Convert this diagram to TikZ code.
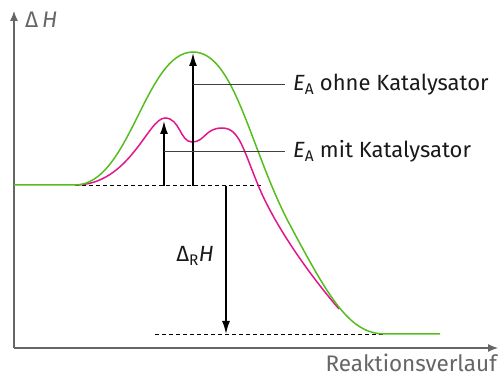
\documentclass[tikz,border=0pt]{standalone}
\usepackage{fontspec}
\setmainfont{Fira Sans}
\usetikzlibrary{arrows.meta,positioning}

\definecolor{axisgray}{HTML}{666666}
\definecolor{curvegreen}{HTML}{55BE1E}
\definecolor{curvepink}{HTML}{E2168C}

\begin{document}
\begin{tikzpicture}[x=1pt, y=-1pt,
  axis/.style={draw=axisgray, line width=1.3pt, -{Latex[length=10pt,width=8pt]}},
  ea/.style={draw=black, line width=1.6pt, -{Latex[length=13pt,width=8pt]}},
  guide/.style={draw=black!75, line width=0.8pt},
  level/.style={draw=black, dashed, line width=0.8pt, dash pattern=on 4pt off 3pt},
  lbl/.style={inner sep=0pt, font=\fontsize{22}{24}\selectfont, text=black!90},
  axlbl/.style={inner sep=0pt, font=\fontsize{22.5}{24}\selectfont, text=axisgray}]
  \useasboundingbox (0,0) rectangle (501,379);

  % axes
  \coordinate (o) at (14,348);
  \coordinate (ytop) at (14,11);
  \coordinate (xend) at (498,348);
  \draw[axis] (o) -- (ytop);
  \draw[axis] (o) -- (xend);
  \node[axlbl, anchor=base west] (ylab) at (25,28) {Δ\,\textit{H}};
  \node[axlbl, anchor=base east] (xlab) at (497,372) {Reaktionsverlauf};

  % levels
  \coordinate (start) at (75,185);
  \coordinate (startend) at (262,185);
  \coordinate (prod) at (155,334);
  \coordinate (prodend) at (385,334);
  \draw[level] (start) -- (startend);
  \draw[level] (prod) -- (prodend);

  % curves
  \draw[curvepink, line width=1.5pt] (start)
    .. controls (130,185) and (148,118) .. (165,118)
    .. controls (180,118) and (180,142) .. (192,142)
    .. controls (205,142) and (205,128) .. (222,128)
    .. controls (240,128) and (243,150) .. (261,192)
    .. controls (281,236) and (315,281) .. (339,309);
  \draw[curvegreen, line width=1.5pt] (14,185) -- (start)
    .. controls (130,185) and (145,52) .. (193,52)
    .. controls (235,52) and (250,150) .. (290,225)
    .. controls (330,300) and (350,334) .. (prodend) -- (440,334);

  % activation energies
  \coordinate (a1) at (193,186);
  \coordinate (a1top) at (193,53);
  \coordinate (a2) at (164,186);
  \coordinate (a2top) at (164,121);
  \draw[ea] (a1) -- (a1top);
  \draw[ea] (a2) -- (a2top);
  \node[lbl, anchor=base west] (ohne) at (293,91) {\textit{E}\textsubscript{A} ohne Katalysator};
  \node[lbl, anchor=base west] (mit) at (293,158) {\textit{E}\textsubscript{A} mit Katalysator};
  \coordinate (ohnel) at (285,84);
  \coordinate (mitl) at (285,151);
  \draw[guide] (a1 |- ohnel) -- (ohnel);
  \draw[guide] (a2 |- mitl) -- (mitl);

  % reaction enthalpy
  \coordinate (r1) at (226,186);
  \coordinate (r2) at (226,334);
  \draw[ea] (r1) -- (r2);
  \node[lbl, anchor=base east] (drh) at (214,262) {Δ\textsubscript{R}\textit{H}};
\end{tikzpicture}
\end{document}
